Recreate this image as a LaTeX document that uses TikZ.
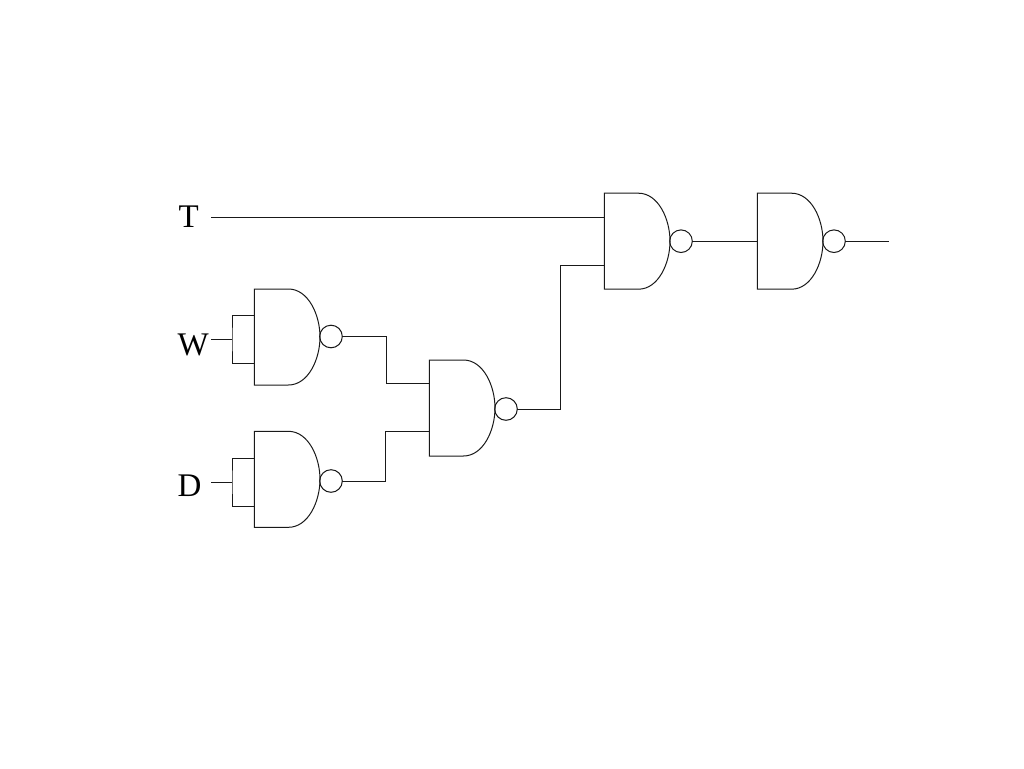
\documentclass[tikz,border=0pt]{standalone}
\usepackage{fontspec}
\setmainfont{Liberation Serif}
\tikzset{
  wire/.style={line width=1pt,draw=black!90},
  lbl/.style={anchor=base west,inner sep=0pt,outer sep=0pt,font=\fontsize{33}{33}\selectfont},
  pics/nandgate/.style={code={
    \draw[wire] (34,0) -- (0,0) -- (0,96) -- (34,96)
      .. controls (54,96) and (65.6,70) .. (65.6,48)
      .. controls (65.6,26) and (54,0) .. (34,0);
    \draw[wire] (76.6,#1) circle[radius=11.3];
    \coordinate (-out) at (87.9,#1);
    \coordinate (-mid) at (0,48);
  }}
}
\begin{document}
\begin{tikzpicture}[x=1pt,y=-1pt]
\useasboundingbox (0,0) rectangle (1024,768);
\pic (ga) at (254.4,289) {nandgate=47.5};
\pic (gb) at (254.4,431.3) {nandgate=49.7};
\pic (gc) at (429.4,360) {nandgate=49};
\pic (gd) at (604.4,193.2) {nandgate=48};
\pic (ge) at (757.4,193.2) {nandgate=48};

\node[lbl] (T) at (178.6,227.5) {T};
\node[lbl] (W) at (177.6,355.5) {W};
\node[lbl] (D) at (177.6,496.5) {D};

\coordinate (tstart) at (211,217);
\coordinate (wstart) at (211,339.5);
\coordinate (dstart) at (211,482);
\coordinate (wfork) at (232,339.5);
\coordinate (dfork) at (232,482);
\coordinate (geend) at (888.5,241.2);

% input wires
\draw[wire] (tstart) -- (gd-mid |- tstart);
\draw[wire] (wstart) -- (wfork);
\draw[wire] (254,315.5) -| (wfork) |- (254,363);
\draw[wire] (dstart) -- (dfork);
\draw[wire] (254,458) -| (dfork) |- (254,506);

% gate to gate
\draw[wire] (ga-out) -| (386,383.5) -- (429.4,383.5);
\draw[wire] (gb-out) -| (385.5,431.5) -- (429.4,431.5);
\draw[wire] (gc-out) -| (560.5,265) -- (604.4,265);
\draw[wire] (gd-out) -- (ge-mid);
\draw[wire] (ge-out) -- (geend);
\end{tikzpicture}
\end{document}
